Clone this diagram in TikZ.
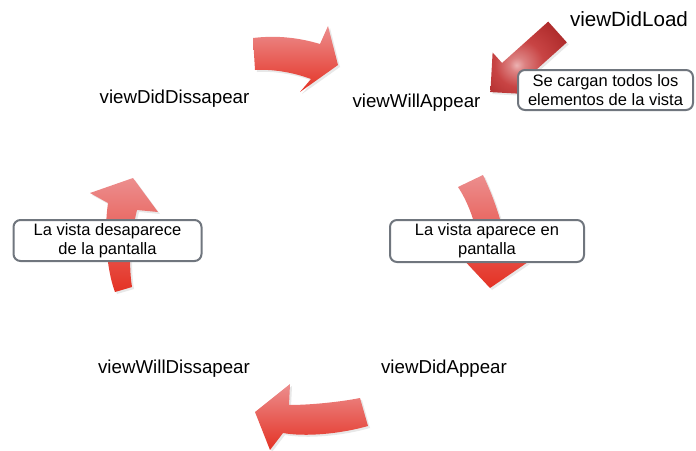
\documentclass[tikz,border=0pt]{standalone}
\usepackage{fontspec}
\setmainfont{Liberation Sans}
\usetikzlibrary{shadows}

\definecolor{arrowtop}{RGB}{236,142,142}
\definecolor{arrowbot}{RGB}{228,50,36}
\definecolor{loaddark}{RGB}{165,34,34}
\definecolor{loadmid}{RGB}{200,68,68}
\definecolor{loadlight}{RGB}{236,178,178}
\definecolor{boxline}{RGB}{112,118,126}

% soft highlight for the straight load arrow
\pgfdeclareradialshading{loadspot}{\pgfpoint{-8bp}{-5bp}}{%
  color(0bp)=(loadlight); color(5bp)=(loadlight!55!loadmid);
  color(16bp)=(loadmid); color(38bp)=(loaddark); color(72bp)=(loaddark)}

\tikzset{
  cyclearrow/.style={top color=arrowtop, bottom color=arrowbot,
    drop shadow={opacity=0.18, shadow xshift=2pt, shadow yshift=-2pt}},
  loadarrow/.style={shading=loadspot,
    drop shadow={opacity=0.18, shadow xshift=2pt, shadow yshift=-2pt}},
  stage/.style={anchor=base, inner sep=0pt, font=\fontsize{18.7}{22}\selectfont},
  infobox/.style={draw=boxline, line width=2pt, rounded corners=7pt, fill=white,
    align=center, inner sep=0pt, font=\fontsize{16.5}{19}\selectfont}
}

\begin{document}
\begin{tikzpicture}[x=1pt, y=-1pt]
\useasboundingbox (0,0) rectangle (696,450);

% curved arrow: viewDidDissapear -> viewWillAppear
\shade[cyclearrow]
  (253,38) .. controls (278,35) and (300,38) .. (320,44)
  -- (328,26) -- (338,65) -- (300,92) -- (311,79)
  .. controls (292,72) and (272,69) .. (255,70) -- cycle;

% curved arrow: viewWillAppear -> viewDidAppear
\shade[cyclearrow]
  (458,187) -- (483,175)
  .. controls (495,200) and (505,230) .. (508,258)
  -- (528,262) -- (490,288) -- (461,257) -- (481,258)
  .. controls (478,230) and (470,205) .. (458,187) -- cycle;

% curved arrow: viewDidAppear -> viewWillDissapear
\shade[cyclearrow]
  (360,398) .. controls (340,402) and (310,405) .. (289,405)
  -- (290,384) -- (255,412) -- (270,450) -- (283,433)
  .. controls (305,437) and (340,434) .. (368,426) -- cycle;

% curved arrow: viewWillDissapear -> viewDidDissapear
\shade[cyclearrow]
  (115,292) .. controls (106,268) and (104,230) .. (108,203)
  -- (90,193) -- (133,178) -- (158,212) -- (137,210)
  .. controls (131,235) and (128,262) .. (132,287) -- cycle;

% straight arrow from viewDidLoad
\shade[loadarrow]
  (548.2,21.6) -- (502,63) -- (492.6,52.5) -- (490.4,92.1)
  -- (530,94.3) -- (520.6,83.8) -- (566.8,42.4) -- cycle;

% stage labels
\node[stage, font=\fontsize{20.6}{24}\selectfont] (load) at (629,26) {viewDidLoad};
\node[stage] (willappear) at (416.5,107.3) {viewWillAppear};
\node[stage] (diddisappear) at (174.5,103.3) {viewDidDissapear};
\node[stage] (willdisappear) at (174,373.3) {viewWillDissapear};
\node[stage] (didappear) at (444,373.3) {viewDidAppear};

% notes
\node[infobox, minimum width=175pt, minimum height=40pt] (loadnote) at (605.5,90)
  {Se cargan todos los\\elementos de la vista};
\node[infobox, minimum width=194pt, minimum height=42pt] (appearnote) at (487,241)
  {La vista aparece en\\pantalla};
\node[infobox, minimum width=188pt, minimum height=41pt] (disappearnote) at (107.5,240.5)
  {La vista desaparece\\de la pantalla};
\end{tikzpicture}
\end{document}
